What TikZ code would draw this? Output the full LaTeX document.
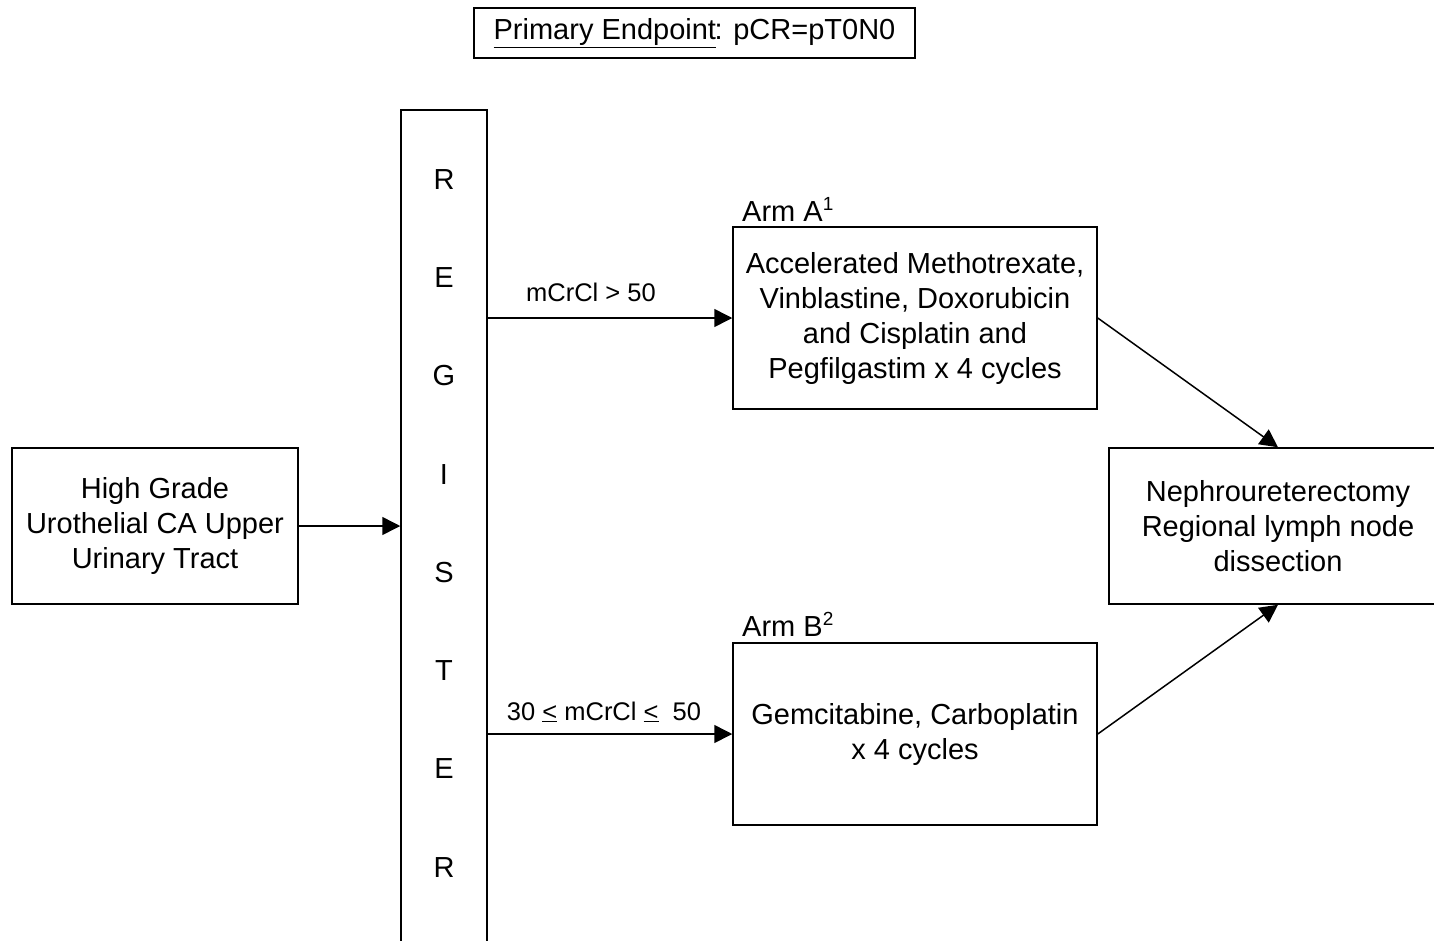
\documentclass[tikz,border=0pt]{standalone}
\usepackage{fontspec}
\setmainfont{Liberation Sans}
\usetikzlibrary{arrows.meta}
\newcommand{\supnum}[1]{\raisebox{11pt}{\fontsize{19}{20}\selectfont #1}}
\tikzset{
  box/.style={draw, line width=1.5pt, align=center, inner sep=0pt, font=\fontsize{29}{35}\selectfont},
  letter/.style={font=\fontsize{29}{30}\selectfont, inner sep=0pt},
  lbl/.style={font=\fontsize{25.5}{28}\selectfont, inner sep=0pt},
  arm/.style={font=\fontsize{29}{30}\selectfont, inner sep=0pt, anchor=west},
  conn/.style={line width=1.5pt, -{Triangle[length=18pt,width=18pt]}}
}
\begin{document}
\begin{tikzpicture}[x=1pt,y=-1pt]
\path[use as bounding box, clip] (0,0) rectangle (1434,940);
\node[box, minimum width=441, minimum height=50] (top) at (694.5,33) {\underline{Primary Endpoint}\kern-1.5pt: pCR=pT0N0};
\node[box, minimum width=286, minimum height=156] (left) at (155,526) {High Grade\\Urothelial CA Upper\\Urinary Tract};
\node[box, minimum width=86, minimum height=900] (reg) at (444,560) {};
\node[letter] (r1) at (444,180) {R};
\node[letter] (r2) at (444,278) {E};
\node[letter] (r3) at (444,376) {G};
\node[letter] (r4) at (444,475) {I};
\node[letter] (r5) at (444,573) {S};
\node[letter] (r6) at (444,671) {T};
\node[letter] (r7) at (444,769) {E};
\node[letter] (r8) at (444,868) {R};
\node[box, minimum width=364, minimum height=182] (armA) at (915,318) {Accelerated Methotrexate,\\Vinblastine, Doxorubicin\\and Cisplatin and\\Pegfilgastim x 4 cycles};
\node[box, minimum width=364, minimum height=182] (armB) at (915,734) {Gemcitabine, Carboplatin\\x 4 cycles};
\node[box, minimum width=338, minimum height=156] (right) at (1278,526) {Nephroureterectomy\\Regional lymph node\\dissection};
\node[arm] (la) at (742,209) {Arm A\supnum{1}};
\node[arm] (lb) at (742,624) {Arm B\supnum{2}};
\draw[conn] (left.east) -- (left.east -| reg.west);
\draw[conn] (armA.west -| reg.east) -- node[lbl, above=16pt, xshift=-19pt] (c1) {mCrCl > 50} (armA.west);
\draw[conn] (armB.west -| reg.east) -- node[lbl, above=11pt, xshift=-6pt] (c2) {30 \underline{<} mCrCl \underline{<}\ \ 50} (armB.west);
\draw[conn] (armA.east) -- (right.north);
\draw[conn] (armB.east) -- (right.south);
\end{tikzpicture}
\end{document}
